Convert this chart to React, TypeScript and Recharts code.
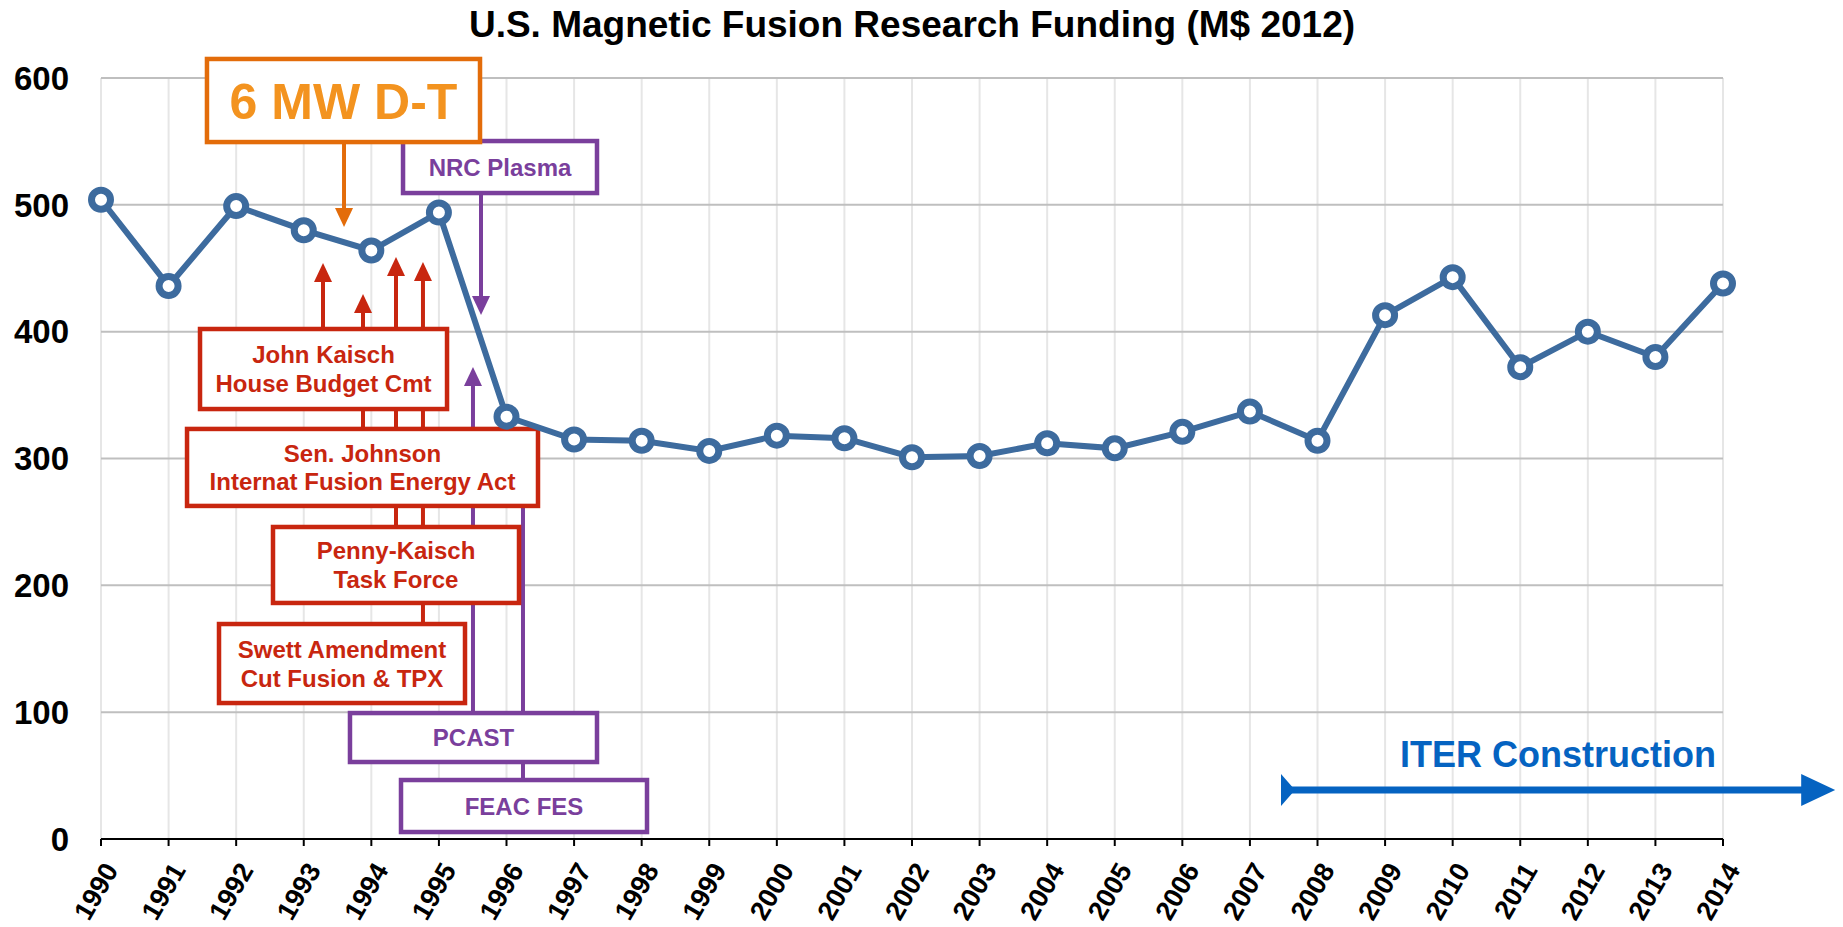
import React from 'react';
import { LineChart, Line, XAxis, YAxis, CartesianGrid, ReferenceArea, ReferenceLine } from 'recharts';

const title = 'U.S. Magnetic Fusion Research Funding (M$ 2012)';
const years = [1990, 1991, 1992, 1993, 1994, 1995, 1996, 1997, 1998, 1999, 2000, 2001, 2002, 2003, 2004, 2005, 2006, 2007, 2008, 2009, 2010, 2011, 2012, 2013, 2014];
const funding = [504, 436, 499, 480, 464, 494, 333, 315, 314, 306, 318, 316, 301, 302, 312, 308, 321, 337, 314, 413, 443, 372, 400, 380, 438];
const yTicks = [0, 100, 200, 300, 400, 500, 600];

const ORANGE = '#e36c0a';
const ORANGE_TEXT = '#f3931f';
const RED = '#c8260f';
const PURPLE = '#7a3f9c';
const BLUE = '#0563c1';
const LINE = '#3d6b9e';
const FONT = '"Liberation Sans", Arial, Helvetica, sans-serif';

// annotation boxes in data units: year range, value range
const boxes = [
  { key: 'jk', x1: 1991.465, x2: 1995.12, y1: 339.0, y2: 402.1, lines: ['John Kaisch', 'House Budget Cmt'], stroke: RED, color: RED, size: 24 },
  { key: 'sj', x1: 1991.273, x2: 1996.466, y1: 262.6, y2: 323.3, lines: ['Sen. Johnson', 'Internat Fusion Energy Act'], stroke: RED, color: RED, size: 24 },
  { key: 'pk', x1: 1992.545, x2: 1996.185, y1: 186.1, y2: 246.0, lines: ['Penny-Kaisch', 'Task Force'], stroke: RED, color: RED, size: 24 },
  { key: 'sw', x1: 1991.746, x2: 1995.386, y1: 107.2, y2: 169.5, lines: ['Swett Amendment', 'Cut Fusion & TPX'], stroke: RED, color: RED, size: 24 },
  { key: 'pc', x1: 1993.684, x2: 1997.339, y1: 60.7, y2: 99.3, lines: ['PCAST'], stroke: PURPLE, color: PURPLE, size: 24 },
  { key: 'fe', x1: 1994.439, x2: 1998.079, y1: 5.5, y2: 46.5, lines: ['FEAC FES'], stroke: PURPLE, color: PURPLE, size: 24 },
  { key: 'nrc', x1: 1994.469, x2: 1997.339, y1: 509.3, y2: 550.3, lines: ['NRC Plasma'], stroke: PURPLE, color: PURPLE, size: 24 },
  { key: 'dt', x1: 1991.568, x2: 1995.608, y1: 549.5, y2: 615.0, lines: ['6 MW D-T'], stroke: ORANGE, color: ORANGE_TEXT, size: 50 },
];

// arrows: vertical, from value `from` to value `to` at year x
const arrows = [
  { key: 'a1', x: 1993.285, from: 402.1, to: 454.1, color: RED, head: true },
  { key: 'a2', x: 1993.877, from: 323.3, to: 429.7, color: RED, head: true },
  { key: 'a3', x: 1994.365, from: 246.0, to: 458.9, color: RED, head: true },
  { key: 'a4', x: 1994.764, from: 169.5, to: 455.0, color: RED, head: true },
  { key: 'a5', x: 1995.504, from: 99.3, to: 372.1, color: PURPLE, head: true },
  { key: 'a6', x: 1996.244, from: 46.5, to: 290.0, color: PURPLE, head: false },
  { key: 'a7', x: 1995.623, from: 509.3, to: 413.1, color: PURPLE, head: true },
  { key: 'a8', x: 1993.596, from: 549.5, to: 482.5, color: ORANGE, head: true },
];

const iterSpan = { from: 2007.46, to: 2015.66, y: 38.6, labelX: 2011.56, labelY: 56.8 };

const data = years.map((y, i) => ({ year: y, value: funding[i] }));

const renderBox = (cfg: any) => (p: any) => {
  const { x, y, width, height } = p;
  const cx = x + width / 2;
  const cy = y + height / 2;
  const n = cfg.lines.length;
  const lh = cfg.size * 1.2;
  return (
    <g>
      <rect x={x} y={y} width={width} height={height} fill="#ffffff" stroke={cfg.stroke} strokeWidth={4.5} />
      {cfg.lines.map((t: string, i: number) => (
        <text
          key={i}
          x={cx}
          y={cy + (i - (n - 1) / 2) * lh + cfg.size * 0.36}
          textAnchor="middle"
          fontFamily={FONT}
          fontWeight="bold"
          fontSize={cfg.size}
          fill={cfg.color}
        >
          {t}
        </text>
      ))}
    </g>
  );
};

const drawArrow = (x1: number, y1: number, x2: number, y2: number, cfg: any) => {
  const dx = x2 - x1;
  const dy = y2 - y1;
  const len = Math.sqrt(dx * dx + dy * dy) || 1;
  const ux = dx / len;
  const uy = dy / len;
  const hl = cfg.headLen || 19;
  const hw = cfg.headW || 9;
  const ex = cfg.head ? x2 - ux * hl : x2;
  const ey = cfg.head ? y2 - uy * hl : y2;
  const px = -uy;
  const py = ux;
  return (
    <g>
      <line x1={x1} y1={y1} x2={ex + ux} y2={ey + uy} stroke={cfg.color} strokeWidth={cfg.width || 4} />
      {cfg.head && (
        <polygon
          points={`${x2},${y2} ${ex + px * hw},${ey + py * hw} ${ex - px * hw},${ey - py * hw}`}
          fill={cfg.color}
        />
      )}
      {cfg.tail && (
        <polygon points={`${x1},${y1 - 16} ${x1 + 14},${y1} ${x1},${y1 + 16}`} fill={cfg.color} />
      )}
    </g>
  );
};

// vertical arrow drawn from a thin reference area
const renderVArrow = (a: any) => (p: any) => {
  const cx = p.x + p.width / 2;
  const top = p.y;
  const bottom = p.y + p.height;
  const up = a.to > a.from;
  return up
    ? drawArrow(cx, bottom, cx, top, { color: a.color, head: a.head })
    : drawArrow(cx, top, cx, bottom, { color: a.color, head: a.head });
};

const renderLineArrow = (cfg: any) => (p: any) => drawArrow(p.x1, p.y1, p.x2, p.y2, cfg);

const XTick = (p: any) => {
  const { x, y, payload } = p;
  const ax = x + 18;
  const ay = y + 22;
  return (
    <text
      x={ax}
      y={ay}
      transform={`rotate(-60 ${ax} ${ay})`}
      textAnchor="end"
      fontFamily={FONT}
      fontWeight="bold"
      fontSize={27}
      fill="#000"
    >
      {payload.value}
    </text>
  );
};

export default function App() {
  return (
    <div style={{ position: 'absolute', left: 0, top: 0, width: 1843, height: 927, background: '#fff' }}>
      <div
        style={{
          position: 'absolute',
          left: 0,
          top: 6,
          width: 1824,
          textAlign: 'center',
          fontFamily: FONT,
          fontWeight: 'bold',
          fontSize: 37,
          lineHeight: '37px',
          color: '#000',
        }}
      >
        {title}
      </div>
      <LineChart
        width={1843}
        height={927}
        data={data}
        margin={{ top: 78, right: 120, left: 11, bottom: 0 }}
        style={{ position: 'absolute', left: 0, top: 0 }}
      >
        <CartesianGrid horizontal={false} vertical={true} stroke="#e6e6e6" strokeWidth={2} />
        <CartesianGrid horizontal={true} vertical={false} stroke="#bfbfbf" strokeWidth={2} />
        <XAxis
          dataKey="year"
          type="number"
          domain={[1990, 2014]}
          ticks={years}
          interval={0}
          height={88}
          axisLine={{ stroke: '#000', strokeWidth: 2 }}
          tickLine={{ stroke: '#000', strokeWidth: 2 }}
          tickSize={7}
          tickMargin={2}
          tick={<XTick />}
        />
        <YAxis
          type="number"
          domain={[0, 600]}
          ticks={yTicks}
          width={90}
          axisLine={false}
          tickLine={false}
          tickSize={0}
          tickMargin={32}
          tick={{ fontFamily: FONT, fontWeight: 'bold', fontSize: 33, fill: '#000' }}
        />
        <Line
          type="linear"
          dataKey="value"
          stroke={LINE}
          strokeWidth={6}
          dot={{ r: 9.5, fill: '#fff', stroke: LINE, strokeWidth: 7 }}
          activeDot={false}
          isAnimationActive={false}
        />
        {arrows.map((a) => (
          <ReferenceArea
            key={a.key}
            x1={a.x - 0.0005}
            x2={a.x + 0.0005}
            y1={Math.min(a.from, a.to)}
            y2={Math.max(a.from, a.to)}
            ifOverflow="visible"
            shape={renderVArrow(a)}
          />
        ))}
        {boxes.map((b) => (
          <ReferenceArea
            key={b.key}
            x1={b.x1}
            x2={b.x2}
            y1={b.y1}
            y2={b.y2}
            ifOverflow="visible"
            shape={renderBox(b)}
          />
        ))}
        <ReferenceLine
          segment={[{ x: iterSpan.from, y: iterSpan.y }, { x: iterSpan.to, y: iterSpan.y }]}
          ifOverflow="visible"
          shape={renderLineArrow({ color: BLUE, head: true, tail: true, width: 7, headLen: 34, headW: 16 })}
        />
        <ReferenceArea
          x1={iterSpan.labelX - 0.01}
          x2={iterSpan.labelX + 0.01}
          y1={iterSpan.labelY}
          y2={iterSpan.labelY + 0.1}
          ifOverflow="visible"
          shape={(p: any) => (
            <text
              x={p.x + p.width / 2}
              y={p.y + p.height}
              textAnchor="middle"
              fontFamily={FONT}
              fontWeight="bold"
              fontSize={36}
              fill={BLUE}
            >
              ITER Construction
            </text>
          )}
        />
      </LineChart>
    </div>
  );
}
